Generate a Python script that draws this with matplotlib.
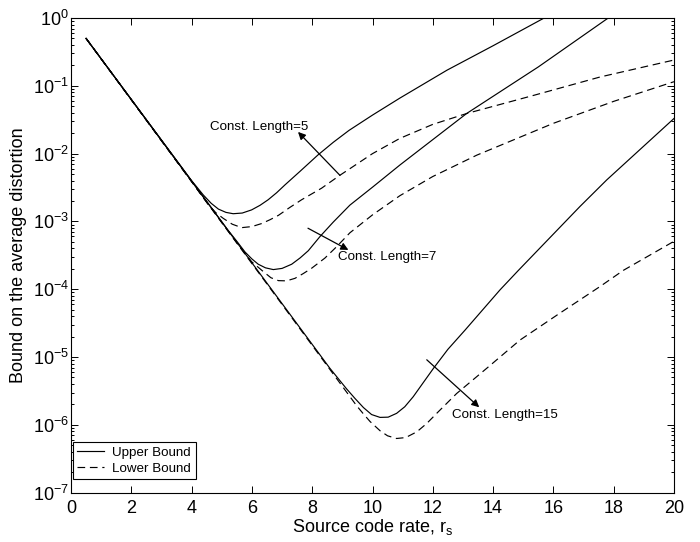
import matplotlib
matplotlib.use('Agg')
import matplotlib.pyplot as plt
from matplotlib.ticker import LogLocator, NullLocator, FixedLocator, NullFormatter

plt.rcParams['font.family'] = ['Liberation Sans', 'DejaVu Sans']
plt.rcParams['mathtext.fontset'] = 'custom'
plt.rcParams['mathtext.rm'] = 'Liberation Sans'
plt.rcParams['mathtext.it'] = 'Liberation Sans:italic'
plt.rcParams['mathtext.default'] = 'regular'

# ---- data ----
x_up5 = [0.5, 4.0, 4.39, 4.65, 4.89, 5.14, 5.38, 5.68, 5.99, 6.27, 6.54, 6.82, 7.10,
         7.6, 8.19, 8.7, 9.22, 10.0, 10.91, 12.47, 14.0, 15.61, 16.2]
y_up5 = [0.5, 4.0e-3, 2.45e-3, 1.85e-3, 1.52e-3, 1.36e-3, 1.30e-3, 1.33e-3, 1.48e-3, 1.73e-3,
         2.09e-3, 2.65e-3, 3.47e-3, 5.5e-3, 9.55e-3, 1.47e-2, 2.2e-2, 3.7e-2, 6.6e-2, 0.17, 0.39,
         0.955, 1.32]

x_lo5 = [0.5, 4.0, 4.55, 4.8, 5.05, 5.35, 5.66, 6.0, 6.32, 6.6, 6.88, 7.25, 7.65, 8.31, 8.92,
         9.25, 10.0, 10.91, 12.0, 13.12, 15.33, 17.55, 20.0]
y_lo5 = [0.5, 3.9e-3, 1.78e-3, 1.35e-3, 1.11e-3, 9.1e-4, 8.1e-4, 8.4e-4, 9.3e-4, 1.06e-3, 1.23e-3,
         1.6e-3, 2.09e-3, 3.09e-3, 4.8e-3, 6.0e-3, 1.0e-2, 1.68e-2, 2.7e-2, 3.9e-2, 7.2e-2, 0.135, 0.24]

x_up7 = [0.5, 5.2, 5.5, 5.77, 6.0, 6.21, 6.45, 6.71, 7.0, 7.32, 7.6, 7.87, 8.26, 8.7, 9.25,
         10.0, 10.91, 13.12, 15.5, 17.77, 18.3]
y_up7 = [0.5, 7.5e-4, 5.1e-4, 3.55e-4, 2.8e-4, 2.34e-4, 2.07e-4, 1.95e-4, 2.03e-4, 2.34e-4, 2.9e-4,
         3.7e-4, 6.0e-4, 9.8e-4, 1.74e-3, 3.2e-3, 6.8e-3, 3.9e-2, 0.19, 0.966, 1.35]

x_lo7 = [0.5, 5.5, 5.99, 6.38, 6.63, 6.88, 7.15, 7.43, 7.7, 7.98, 8.42, 8.8, 9.25, 10.0, 10.91,
         12.0, 13.46, 16.0, 18.0, 20.0]
y_lo7 = [0.5, 4.85e-4, 2.55e-4, 1.82e-4, 1.48e-4, 1.34e-4, 1.33e-4, 1.45e-4, 1.7e-4, 2.04e-4,
         2.88e-4, 4.2e-4, 6.8e-4, 1.25e-3, 2.4e-3, 4.6e-3, 9.5e-3, 2.8e-2, 5.9e-2, 0.115]

x_up15 = [0.5, 8.59, 9.14, 9.42, 9.7, 9.97, 10.25, 10.52, 10.8, 11.07, 11.35, 11.7, 12.02, 12.5,
          13.07, 14.23, 14.84, 16.88, 17.77, 20.0]
y_up15 = [0.5, 6.8e-6, 3.4e-6, 2.45e-6, 1.8e-6, 1.42e-6, 1.29e-6, 1.3e-6, 1.48e-6, 1.85e-6,
          2.6e-6, 4.3e-6, 6.8e-6, 1.3e-5, 2.5e-5, 9.8e-5, 1.9e-4, 1.66e-3, 4.1e-3, 3.3e-2]

x_lo15 = [0.5, 9.48, 9.7, 9.92, 10.25, 10.5, 10.8, 11.1, 11.47, 11.8, 12.13, 12.79, 13.8,
          14.89, 16.2, 17.55, 18.32, 20.0]
y_lo15 = [0.5, 1.9e-6, 1.45e-6, 1.12e-6, 8.2e-7, 6.9e-7, 6.3e-7, 6.5e-7, 7.9e-7, 1.05e-6,
          1.48e-6, 2.9e-6, 6.9e-6, 1.78e-5, 4.4e-5, 1.1e-4, 1.9e-4, 5.1e-4]

x_ticks = [0, 2, 4, 6, 8, 10, 12, 14, 16, 18, 20]
labels_cl = ['Const. Length=5', 'Const. Length=7', 'Const. Length=15']
legend_labels = ['Upper Bound', 'Lower Bound']

# ---- figure ----
fig = plt.figure(figsize=(7.0, 5.42), dpi=100)
ax = fig.add_axes([71/700, 1 - 492.7/542, (674-71)/700, (492.7-18)/542])

lw = 0.85
dash = (0, (6.5, 4.0))
up_kw = dict(color='black', lw=lw, linestyle='-')
lo_kw = dict(color='black', lw=lw, linestyle=dash)

ax.plot(x_lo5, y_lo5, **lo_kw)
ax.plot(x_lo7, y_lo7, **lo_kw)
ax.plot(x_lo15, y_lo15, **lo_kw)
h1, = ax.plot(x_up5, y_up5, **up_kw)
ax.plot(x_up7, y_up7, **up_kw)
ax.plot(x_up15, y_up15, **up_kw)
h2, = ax.plot([], [], **lo_kw)

ax.set_yscale('log')
ax.set_xlim(0, 20)
ax.set_ylim(1e-7, 1e0)
ax.xaxis.set_major_locator(FixedLocator(x_ticks))
ax.xaxis.set_minor_locator(NullLocator())
ax.yaxis.set_major_locator(LogLocator(base=10, numticks=20))
ax.yaxis.set_minor_locator(LogLocator(base=10, subs=range(2, 10), numticks=20))
ax.yaxis.set_minor_formatter(NullFormatter())

ax.tick_params(which='both', direction='in', top=True, right=True, width=0.7)
ax.tick_params(which='major', length=5)
ax.tick_params(which='minor', length=2.5)
ax.tick_params(axis='x', labelsize=13, pad=5)
ax.tick_params(axis='y', labelsize=13, pad=1.5)
for s in ax.spines.values():
    s.set_linewidth(0.8)

ax.set_xlabel('Source code rate, r$_\\mathregular{s}$', fontsize=13, labelpad=0)
ax.set_ylabel('Bound on the average distortion', fontsize=13, labelpad=4)

# annotations
akw = dict(arrowstyle='-|>', color='black', lw=0.9, mutation_scale=11,
           shrinkA=0, shrinkB=0)
ax.annotate('', xy=(7.53, 10**-1.68), xytext=(8.92, 10**-2.32), arrowprops=akw)
ax.text(4.61, 10**-1.603, labels_cl[0], fontsize=9.6, ha='left', va='center')

ax.annotate('', xy=(9.2, 10**-3.42), xytext=(7.86, 10**-3.10), arrowprops=akw)
ax.text(8.86, 10**-3.52, labels_cl[1], fontsize=9.6, ha='left', va='center')

ax.annotate('', xy=(13.54, 10**-5.74), xytext=(11.8, 10**-5.04), arrowprops=akw)
ax.text(12.63, 10**-5.86, labels_cl[2], fontsize=9.6, ha='left', va='center')

leg = ax.legend([h1, h2], legend_labels, loc='lower left',
                bbox_to_anchor=(0.003, 0.028), fontsize=9.6, frameon=True,
                fancybox=False, edgecolor='black', framealpha=1,
                handlelength=2.0, handletextpad=0.6, labelspacing=0.25,
                borderpad=0.35, borderaxespad=0)
leg.get_frame().set_linewidth(0.8)

fig.savefig('out.png', dpi=100)
